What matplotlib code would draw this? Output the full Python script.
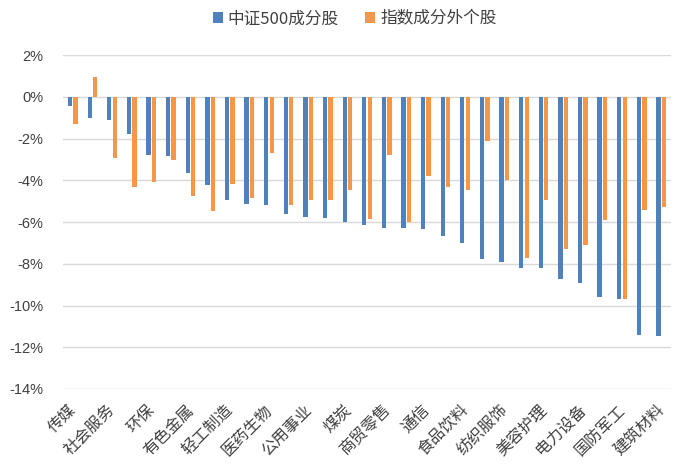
import numpy as np
import matplotlib.pyplot as plt
from matplotlib.ticker import FuncFormatter
from matplotlib.transforms import ScaledTranslation

plt.rcParams['font.family'] = ['Noto Sans CJK SC', 'DejaVu Sans']

# 申万一级行业（每隔一个显示标签）
industries = ['传媒', '计算机', '社会服务', '电子', '环保', '通信设备', '有色金属', '基础化工',
              '轻工制造', '汽车', '医药生物', '家用电器', '公用事业', '交通运输', '煤炭', '房地产',
              '商贸零售', '建筑装饰', '通信', '农林牧渔', '食品饮料', '机械设备', '纺织服饰', '钢铁',
              '美容护理', '石油石化', '电力设备', '非银金融', '国防军工', '银行', '建筑材料']

# 区间收益（%）
csi500_members = [-0.45, -1.00, -1.12, -1.79, -2.78, -2.85, -3.63, -4.21, -4.96, -5.14,
                  -5.18, -5.63, -5.76, -5.81, -6.00, -6.16, -6.30, -6.30, -6.35, -6.69,
                  -7.01, -7.78, -7.90, -8.18, -8.22, -8.72, -8.93, -9.60, -9.70, -11.42,
                  -11.47]
non_members = [-1.30, 0.96, -2.91, -4.34, -4.08, -3.04, -4.74, -5.46, -4.16, -4.86,
               -2.69, -5.18, -4.96, -4.96, -4.46, -5.86, -2.78, -6.02, -3.79, -4.34,
               -4.46, -2.11, -3.97, -7.73, -4.96, -7.28, -7.10, -5.90, -9.70, -5.41,
               -5.26]

series_names = ['中证500成分股', '指数成分外个股']
colors = ['#4F81BD', '#F79646']

fig = plt.figure(figsize=(6.82, 4.71), dpi=100)
ax = fig.add_axes([0.0924, 0.1741, 0.8915, 0.7091])

x = np.arange(len(industries))
w = 0.22
ax.bar(x - 0.14, csi500_members, w, color=colors[0], label=series_names[0], zorder=3)
ax.bar(x + 0.14, non_members, w, color=colors[1], label=series_names[1], zorder=3)

ax.set_xlim(-0.5, len(industries) - 0.5)
ax.set_ylim(-14, 2)
ax.set_yticks(np.arange(-14, 3, 2))
ax.yaxis.set_major_formatter(FuncFormatter(lambda v, _: f'{v:.0f}%'))
ax.grid(axis='y', color='#d9d9d9', linewidth=1, zorder=0)
for s in ax.spines.values():
    s.set_visible(False)
ax.tick_params(axis='y', length=0, pad=14, labelsize=10.5, labelcolor='#404040')
for lbl in ax.get_yticklabels():
    lbl.set_family(['Liberation Sans', 'DejaVu Sans'])

ax.set_xticks(x[::2])
ax.set_xticklabels(industries[::2], rotation=45, ha='right', va='top',
                   fontsize=11.5, color='#404040')
ax.tick_params(axis='x', length=0, pad=9)
# 斜排标签右移一点，让文字末端对准柱组
shift = ScaledTranslation(7 / 100, 0, fig.dpi_scale_trans)
for lbl in ax.get_xticklabels():
    lbl.set_transform(lbl.get_transform() + shift)

fig.legend(loc='upper center', bbox_to_anchor=(0.52, 1.01), ncol=2, frameon=False,
           fontsize=12, handlelength=0.6, handleheight=0.6, handletextpad=0.3,
           columnspacing=1.6, labelcolor='#404040')

fig.savefig('out.png', dpi=100)
